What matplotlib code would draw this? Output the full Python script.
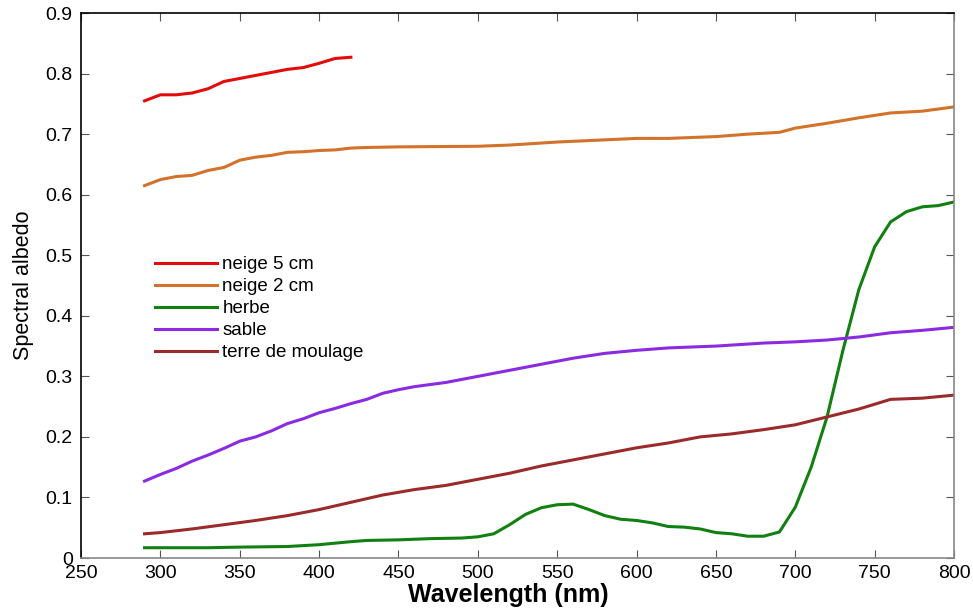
import matplotlib
matplotlib.use("Agg")
import matplotlib.pyplot as plt
import numpy as np

plt.rcParams['font.family'] = ['Liberation Sans', 'DejaVu Sans']

# neige 5 cm
wl_neige5 = [290, 300, 310, 320, 330, 340, 350, 360, 370, 380, 390, 400, 410, 420]
alb_neige5 = [0.755, 0.765, 0.765, 0.768, 0.775, 0.787, 0.792, 0.797, 0.802, 0.807,
              0.810, 0.817, 0.825, 0.827]

# neige 2 cm
wl_neige2 = [290, 300, 310, 320, 330, 340, 350, 360, 370, 380, 390, 400, 410, 420,
             430, 450, 500, 520, 550, 600, 620, 650, 670, 690, 700, 720, 740, 760,
             780, 800]
alb_neige2 = [0.615, 0.625, 0.630, 0.632, 0.640, 0.645, 0.657, 0.662, 0.665, 0.670,
              0.671, 0.673, 0.674, 0.677, 0.678, 0.679, 0.680, 0.682, 0.687, 0.693,
              0.693, 0.696, 0.700, 0.703, 0.710, 0.718, 0.727, 0.735, 0.738, 0.745]

# herbe
wl_herbe = [290, 330, 350, 380, 400, 420, 430, 450, 470, 490, 500, 510, 520, 530,
            540, 550, 560, 570, 580, 590, 600, 610, 620, 630, 640, 650, 660, 670,
            680, 690, 700, 710, 720, 730, 740, 750, 760, 770, 780, 790, 800]
alb_herbe = [0.017, 0.017, 0.018, 0.019, 0.022, 0.027, 0.029, 0.030, 0.032, 0.033,
             0.035, 0.040, 0.055, 0.072, 0.083, 0.088, 0.089, 0.080, 0.070, 0.064,
             0.062, 0.058, 0.052, 0.051, 0.048, 0.042, 0.040, 0.036, 0.036, 0.043,
             0.084, 0.150, 0.233, 0.343, 0.443, 0.514, 0.555, 0.572, 0.580, 0.582,
             0.588]

# sable
wl_sable = [290, 300, 310, 320, 330, 340, 350, 360, 370, 380, 390, 400, 410, 420,
            430, 440, 450, 460, 480, 500, 520, 540, 560, 580, 600, 620, 650, 680,
            700, 720, 740, 760, 780, 800]
alb_sable = [0.127, 0.138, 0.148, 0.160, 0.170, 0.181, 0.193, 0.200, 0.210, 0.222,
             0.230, 0.240, 0.247, 0.255, 0.262, 0.272, 0.278, 0.283, 0.290, 0.300,
             0.310, 0.320, 0.330, 0.338, 0.343, 0.347, 0.350, 0.355, 0.357, 0.360,
             0.365, 0.372, 0.376, 0.381]

# terre de moulage
wl_terre = [290, 300, 320, 340, 360, 380, 400, 420, 440, 460, 480, 500, 520, 540,
            560, 580, 600, 620, 640, 660, 680, 700, 720, 740, 760, 780, 800]
alb_terre = [0.040, 0.042, 0.048, 0.055, 0.062, 0.070, 0.080, 0.092, 0.104, 0.113,
             0.120, 0.130, 0.140, 0.152, 0.162, 0.172, 0.182, 0.190, 0.200, 0.205,
             0.212, 0.220, 0.233, 0.246, 0.262, 0.264, 0.269]

labels = ['neige 5 cm', 'neige 2 cm', 'herbe', 'sable', 'terre de moulage']
colors = ['#e30b0b', '#d2722b', '#118011', '#8a2be2', '#9b2a2a']

fig = plt.figure(figsize=(9.73, 6.13), dpi=100)
ax = fig.add_axes([0.0833, 0.0897, 0.8972, 0.889])

series = [(wl_neige5, alb_neige5), (wl_neige2, alb_neige2), (wl_herbe, alb_herbe),
          (wl_sable, alb_sable), (wl_terre, alb_terre)]
for (x, y), lab, c in zip(series, labels, colors):
    ax.plot(x, y, color=c, lw=2.2, label=lab)

ax.set_xlim(250, 800)
ax.set_ylim(0, 0.9)
ax.set_xticks(np.arange(250, 801, 50))
ax.set_yticks(np.arange(0, 0.91, 0.1))
ax.set_yticklabels(['0', '0.1', '0.2', '0.3', '0.4', '0.5', '0.6', '0.7', '0.8', '0.9'])
ax.tick_params(direction='in', length=6, top=True, right=True, labelsize=14,
               color='#555555')
ax.tick_params(axis='y', pad=6)
ax.tick_params(axis='x', pad=5)

ax.spines['left'].set_color('black')
ax.spines['top'].set_color('black')
ax.spines['bottom'].set_color('#888888')
ax.spines['right'].set_color('#888888')
for s in ax.spines.values():
    s.set_linewidth(1.2)

ax.set_xlabel('Wavelength (nm)', fontsize=18, fontweight='bold')
ax.xaxis.set_label_coords(0.49, -0.045)
ax.set_ylabel('Spectral albedo', fontsize=15.5)
ax.yaxis.set_label_coords(-0.054, 0.5)

ax.legend(loc='upper left', bbox_to_anchor=(0.076, 0.568), frameon=False,
          fontsize=13.5, handlelength=3.3, handletextpad=0.3, labelspacing=0.26,
          borderaxespad=0.0)

fig.savefig('out.png', dpi=100)
